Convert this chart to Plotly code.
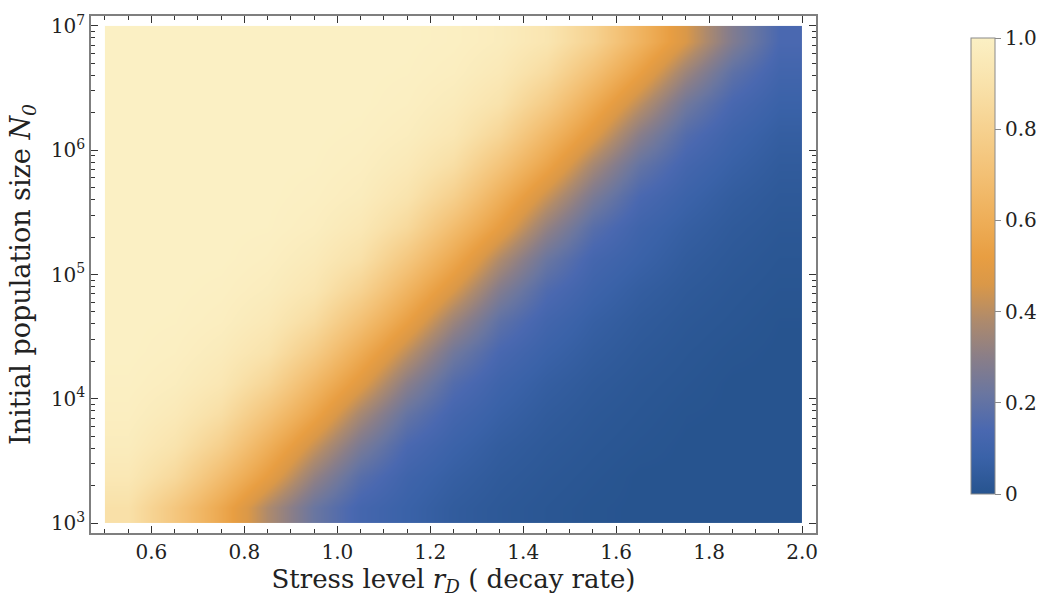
import plotly.graph_objects as go

# Stress level r_D: cell edges (0.1 wide) and log10(N0) cell edges (0.25 decade)
x_edges = [0.5, 0.6, 0.7, 0.8, 0.9, 1.0, 1.1, 1.2, 1.3, 1.4, 1.5, 1.6, 1.7, 1.8, 1.9, 2.0]
logN_edges = [3.0, 3.25, 3.5, 3.75, 4.0, 4.25, 4.5, 4.75, 5.0, 5.25, 5.5, 5.75, 6.0, 6.25, 6.5, 6.75, 7.0]

# values, one row per N0 band (bottom to top)
z_rows = [
    [0.89, 0.74, 0.57, 0.38, 0.22, 0.12, 0.08, 0.045, 0.026, 0.014, 0.004, 0.0, 0.0, 0.0, 0.0],
    [0.94, 0.845, 0.68, 0.51, 0.32, 0.175, 0.10, 0.062, 0.036, 0.021, 0.01, 0.0, 0.0, 0.0, 0.0],
    [0.97, 0.91, 0.79, 0.61, 0.43, 0.26, 0.14, 0.086, 0.05, 0.03, 0.017, 0.007, 0.0, 0.0, 0.0],
    [0.985, 0.95, 0.875, 0.72, 0.55, 0.36, 0.205, 0.117, 0.072, 0.042, 0.024, 0.013, 0.003, 0.0, 0.0],
    [0.995, 0.976, 0.933, 0.826, 0.654, 0.482, 0.296, 0.163, 0.096, 0.058, 0.034, 0.019, 0.009, 0.0, 0.0],
    [1.0, 0.99, 0.962, 0.903, 0.766, 0.587, 0.408, 0.236, 0.133, 0.082, 0.049, 0.028, 0.015, 0.005, 0.0],
    [1.0, 0.997, 0.983, 0.946, 0.859, 0.699, 0.526, 0.339, 0.189, 0.11, 0.066, 0.039, 0.022, 0.012, 0.002],
    [1.0, 1.0, 0.993, 0.972, 0.923, 0.806, 0.632, 0.458, 0.276, 0.153, 0.092, 0.055, 0.032, 0.018, 0.008],
    [1.0, 1.0, 1.0, 0.988, 0.956, 0.89, 0.74, 0.57, 0.38, 0.22, 0.12, 0.08, 0.045, 0.026, 0.014],
    [1.0, 1.0, 1.0, 0.998, 0.981, 0.94, 0.845, 0.68, 0.51, 0.32, 0.175, 0.10, 0.062, 0.036, 0.021],
    [1.0, 1.0, 1.0, 1.0, 0.992, 0.97, 0.91, 0.79, 0.61, 0.43, 0.26, 0.14, 0.086, 0.05, 0.03],
    [1.0, 1.0, 1.0, 1.0, 0.998, 0.985, 0.95, 0.875, 0.72, 0.55, 0.36, 0.205, 0.117, 0.072, 0.042],
    [1.0, 1.0, 1.0, 1.0, 1.0, 0.995, 0.976, 0.933, 0.826, 0.654, 0.482, 0.296, 0.163, 0.096, 0.058],
    [1.0, 1.0, 1.0, 1.0, 1.0, 1.0, 0.99, 0.962, 0.903, 0.766, 0.587, 0.408, 0.236, 0.133, 0.082],
    [1.0, 1.0, 1.0, 1.0, 1.0, 1.0, 0.997, 0.983, 0.946, 0.859, 0.699, 0.526, 0.339, 0.189, 0.11],
    [1.0, 1.0, 1.0, 1.0, 1.0, 1.0, 1.0, 0.993, 0.972, 0.923, 0.806, 0.632, 0.458, 0.276, 0.14],
]

x_tickvals = [0.6, 0.8, 1.0, 1.2, 1.4, 1.6, 1.8, 2.0]
x_ticktext = ["0.6", "0.8", "1.0", "1.2", "1.4", "1.6", "1.8", "2.0"]
y_exponents = [3, 4, 5, 6, 7]
cb_tickvals = [0, 0.2, 0.4, 0.6, 0.8, 1.0]
cb_ticktext = ["0", "0.2", "0.4", "0.6", "0.8", "1.0"]

colorscale = [
    [0.00, "#27548f"],
    [0.08, "#3a62a8"],
    [0.14, "#4a68b0"],
    [0.22, "#6a76a0"],
    [0.30, "#8a7e88"],
    [0.38, "#ae8a6c"],
    [0.46, "#da9848"],
    [0.52, "#e89e42"],
    [0.60, "#eeae58"],
    [0.70, "#f3c074"],
    [0.80, "#f6d18f"],
    [0.90, "#f9e2ab"],
    [1.00, "#fbf0c4"],
]

FONT = "DejaVu Serif"
TXT = "#222222"
y_edges = [10 ** v for v in logN_edges]
y_tickvals = [10 ** e for e in y_exponents]
y_ticktext = ["10<sup>%d</sup>" % e for e in y_exponents]
y_minor = [m * 10 ** e for e in y_exponents[:-1] for m in range(2, 10)]

fig = go.Figure(
    go.Heatmap(
        x=x_edges,
        y=y_edges,
        z=z_rows,
        zmin=0,
        zmax=1,
        zsmooth="best",
        colorscale=colorscale,
        colorbar=dict(
            x=1.2137,
            xanchor="left",
            xpad=0,
            ypad=0,
            y=0.5164,
            yanchor="middle",
            len=456,
            lenmode="pixels",
            thickness=24,
            thicknessmode="pixels",
            outlinecolor="#8a8a8a",
            outlinewidth=1,
            tickmode="array",
            tickvals=cb_tickvals,
            ticktext=cb_ticktext,
            ticks="outside",
            ticklen=6,
            tickcolor="#8a8a8a",
            tickfont=dict(family=FONT, size=20, color=TXT),
        ),
    )
)

fig.update_layout(
    width=1050,
    height=606,
    margin=dict(l=91, r=229, t=16, b=73),
    paper_bgcolor="white",
    plot_bgcolor="white",
    font=dict(family=FONT, size=20, color=TXT),
)

fig.update_xaxes(
    range=[0.47, 2.03],
    tickmode="array",
    tickvals=x_tickvals,
    ticktext=x_ticktext,
    ticks="inside",
    ticklen=7,
    tickwidth=1,
    tickcolor="#333333",
    showline=True,
    linecolor="#7f7f7f",
    linewidth=1.5,
    mirror="ticks",
    showgrid=False,
    zeroline=False,
    tickfont=dict(family=FONT, size=20, color=TXT),
    minor=dict(ticks="inside", ticklen=4, dtick=0.05, tick0=0.5, tickcolor="#333333", showgrid=False),
    title=dict(text="Stress level <i>r<sub>D</sub></i> ( decay rate)", font=dict(family=FONT, size=26, color=TXT), standoff=4),
)

fig.update_yaxes(
    type="log",
    range=[2.92, 7.08],
    tickmode="array",
    tickvals=y_tickvals,
    ticktext=y_ticktext,
    ticks="inside",
    ticklen=7,
    tickwidth=1,
    tickcolor="#333333",
    showline=True,
    linecolor="#7f7f7f",
    linewidth=1.5,
    mirror="ticks",
    showgrid=False,
    zeroline=False,
    tickfont=dict(family=FONT, size=20, color=TXT),
    minor=dict(ticks="inside", ticklen=4, tickvals=y_minor, tickcolor="#333333", showgrid=False),
    title=dict(text="Initial population size <i>N<sub>0</sub></i>", font=dict(family=FONT, size=27, color=TXT), standoff=12),
)

fig.write_html("out.html")
